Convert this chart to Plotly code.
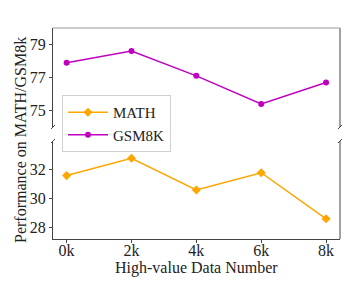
import plotly.graph_objects as go

x_labels = ["0k", "2k", "4k", "6k", "8k"]
x_vals = [0, 2, 4, 6, 8]
math_vals = [31.6, 32.8, 30.6, 31.8, 28.6]
gsm8k_vals = [77.9, 78.6, 77.1, 75.4, 76.7]

FONT = "Liberation Serif"
ORANGE = "#FFA500"
MAGENTA = "#BF00BF"

fig = go.Figure()
fig.add_trace(go.Scatter(x=x_vals, y=math_vals, name="MATH", mode="lines+markers",
                         line=dict(color=ORANGE, width=1.5),
                         marker=dict(symbol="diamond", size=7, color=ORANGE),
                         xaxis="x", yaxis="y"))
fig.add_trace(go.Scatter(x=x_vals, y=gsm8k_vals, name="GSM8K", mode="lines+markers",
                         line=dict(color=MAGENTA, width=1.5),
                         marker=dict(symbol="circle", size=6, color=MAGENTA),
                         xaxis="x2", yaxis="y2"))

L, R, T, B = 53, 17, 28, 43
W, H = 357, 282
ph = H - T - B
pw = W - L - R
top_lo = (239 - 127) / ph
bot_hi = (239 - 141) / ph

axfont = dict(family=FONT, size=16, color="#222")
fig.update_layout(
    width=W, height=H, margin=dict(l=L, r=R, t=T, b=B, autoexpand=False),
    plot_bgcolor="white", paper_bgcolor="white",
    font=dict(family=FONT, size=16, color="#222"),
    showlegend=True,
    xaxis=dict(domain=[0, 1], range=[-0.42, 8.43], tickvals=x_vals, ticktext=x_labels,
               showgrid=False, zeroline=False, showline=True, linecolor="#444", linewidth=1,
               mirror=False, ticks="outside", ticklen=3, tickcolor="#444", tickfont=axfont,
               anchor="y", automargin=False, ticklabelstandoff=-6),
    yaxis=dict(domain=[0, bot_hi], range=[27.2, 34], tickvals=[28, 30, 32],
               showgrid=False, zeroline=False, showline=True, linecolor="#444", linewidth=1,
               ticks="outside", ticklen=3, tickcolor="#444", tickfont=axfont, anchor="x",
               automargin=False),
    xaxis2=dict(domain=[0, 1], range=[-0.42, 8.43], showticklabels=False, showgrid=False,
                zeroline=False, showline=False, anchor="y2", matches="x", automargin=False),
    yaxis2=dict(domain=[top_lo, 1], range=[74, 80], tickvals=[75, 77, 79],
                showgrid=False, zeroline=False, showline=True, linecolor="#444", linewidth=1,
                ticks="outside", ticklen=3, tickcolor="#444", tickfont=axfont, anchor="x2",
                automargin=False),
    legend=dict(x=(62 - L) / pw, y=(239 - 95) / ph, xanchor="left", yanchor="top",
                bgcolor="rgba(255,255,255,0.8)", bordercolor="#d0d0d0", borderwidth=1,
                font=dict(family=FONT, size=15, color="#222"), itemwidth=40,
                tracegroupgap=0),
)

shapes = []
shapes.append(dict(type="line", xref="paper", yref="paper", x0=1, x1=1, y0=0, y1=bot_hi,
                   line=dict(color="#444", width=1)))
shapes.append(dict(type="line", xref="paper", yref="paper", x0=1, x1=1, y0=top_lo, y1=1,
                   line=dict(color="#444", width=1)))
shapes.append(dict(type="line", xref="paper", yref="paper", x0=0, x1=1, y0=1, y1=1,
                   line=dict(color="#999", width=1.2)))
for xa in (0, 1):
    for ya in (top_lo, bot_hi):
        shapes.append(dict(type="line", xref="paper", yref="paper",
                           xsizemode="pixel", ysizemode="pixel", xanchor=xa, yanchor=ya,
                           x0=-2, x1=2, y0=-2, y1=2, line=dict(color="#444", width=1)))
fig.update_layout(shapes=shapes)

fig.add_annotation(text="Performance on MATH/GSM8k", xref="paper", yref="paper",
                   x=(20 - L) / pw, y=(239 - 140) / ph, xanchor="center", yanchor="middle",
                   textangle=-90, showarrow=False, font=dict(family=FONT, size=16, color="#222"))
fig.add_annotation(text="High-value Data Number", xref="paper", yref="paper",
                   x=0.5, y=(239 - 268) / ph, xanchor="center", yanchor="middle",
                   showarrow=False, font=dict(family=FONT, size=16, color="#222"))

fig.write_html("out.html", config={"displayModeBar": False},
               post_script="document.body.style.margin='0';document.body.style.padding='0';")
